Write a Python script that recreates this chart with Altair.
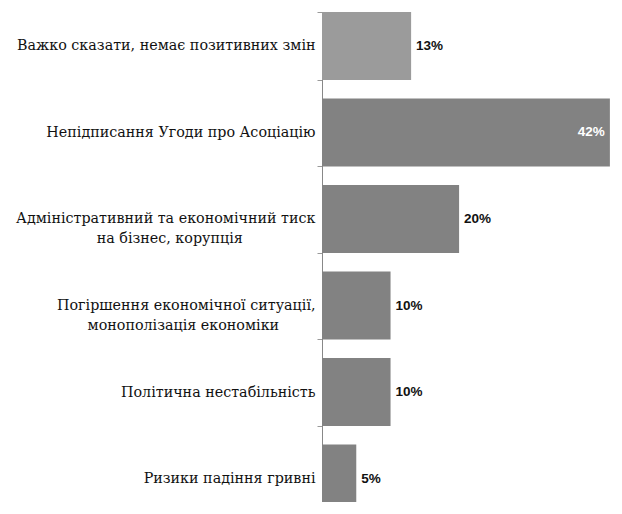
import altair as alt
import pandas as pd

categories = [
    "Важко сказати, немає позитивних змін",
    "Непідписання Угоди про Асоціацію",
    "Адміністративний та економічний тиск|на бізнес, корупція",
    "Погіршення економічної ситуації,|монополізація економіки",
    "Політична нестабільність",
    "Ризики падіння гривні",
]
values = [13, 42, 20, 10, 10, 5]
labels = ["13%", "42%", "20%", "10%", "10%", "5%"]
kinds = ["solid", "hatch", "hatch", "hatch", "hatch", "hatch"]

df = pd.DataFrame({"cat": categories, "value": values, "label": labels, "kind": kinds})

# second line of a two-line label is centred under the first, as in the reference
NB = "\u00a0"
ZW = "\u200b"
l1 = "split(datum.label,'|')[0]"
l2 = "split(datum.label,'|')[1]"
label_expr = (
    f"indexof(datum.label,'|') >= 0 ? "
    f"[{l1}, {l2} + pad('', round((length({l1}) - length({l2})) * 0.92), '{NB}') + '{ZW}'] "
    f": datum.label"
)

y_enc = alt.Y(
    "cat:N",
    sort=categories,
    scale=alt.Scale(paddingInner=0.214, paddingOuter=0, range=[0, 500.5]),
    axis=alt.Axis(
        title=None,
        labelExpr=label_expr,
        labelFont="DejaVu Serif",
        labelFontSize=14.3,
        labelColor="#111111",
        labelLimit=400,
        labelPadding=2,
        labelLineHeight=20,
        tickBand="extent",
        tickSize=5,
        tickColor="#9a9a9a",
        domainColor="#888888",
        grid=False,
    ),
)

x_enc = alt.X(
    "value:Q",
    scale=alt.Scale(domain=[0, 42.6], nice=False),
    axis=None,
)

bars = alt.Chart(df).mark_bar().encode(
    y=y_enc,
    x=x_enc,
    color=alt.Color(
        "kind:N",
        scale=alt.Scale(domain=["solid", "hatch"], range=["#9b9b9b", "#828282"]),
        legend=None,
    ),
)

text_out = alt.Chart(df).transform_filter("datum.value < 40").mark_text(
    align="left",
    baseline="middle",
    dx=5,
    font="Liberation Sans",
    fontSize=13.5,
    fontWeight="bold",
    color="#111111",
).encode(
    y=alt.Y("cat:N", sort=categories),
    x=alt.X("value:Q"),
    text="label:N",
)

text_in = alt.Chart(df).transform_filter("datum.value >= 40").mark_text(
    align="right",
    baseline="middle",
    dx=-5,
    font="Liberation Sans",
    fontSize=13.5,
    fontWeight="bold",
    color="#ffffff",
).encode(
    y=alt.Y("cat:N", sort=categories),
    x=alt.X("value:Q"),
    text="label:N",
)

chart = (
    alt.layer(bars, text_out, text_in)
    .properties(
        width=292,
        height=490,
        autosize=alt.AutoSizeParams(type="none"),
        padding={"left": 314, "top": 4, "right": 0, "bottom": 0},
    )
    .configure_view(stroke=None)
)

chart.save("out.html", embed_options={"renderer": "svg", "actions": False})
